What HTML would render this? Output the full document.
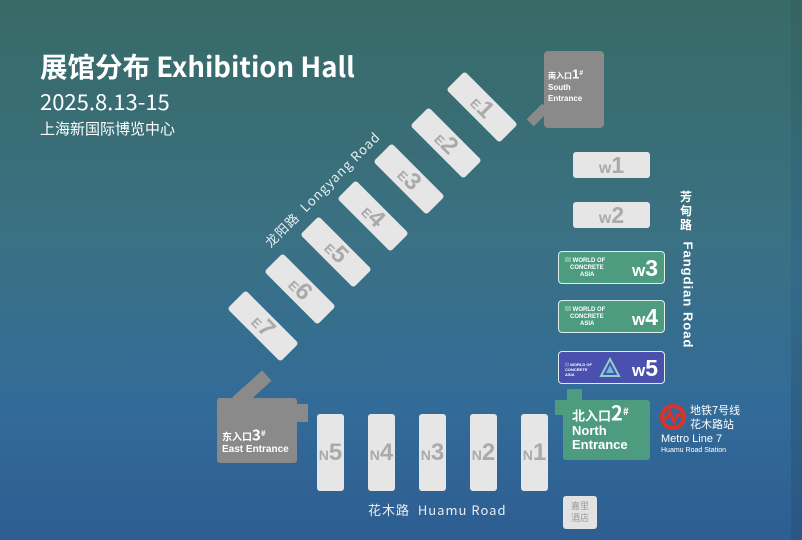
<!DOCTYPE html>
<html><head><meta charset="utf-8"><style>
*{margin:0;padding:0;box-sizing:border-box}
body{width:802px;height:540px;overflow:hidden;position:relative;font-family:"Liberation Sans","Noto Sans CJK SC",sans-serif;background:linear-gradient(180deg,#386a66 0%,#3a7184 45%,#326b98 75%,#2e5e92 100%);color:#fff}
.a{position:absolute}
.strip{left:791px;top:0;width:11px;height:540px;background:linear-gradient(180deg,#36645f,#336b88 50%,#2a5585);}
.e{position:absolute;width:75px;height:26px;background:#e6e6e6;border-radius:3px;transform:translate(-50%,-50%) rotate(45deg);color:#aaa;font-weight:bold;text-align:center;line-height:26px;font-size:24px}
.e small{font-size:13px}
.n{position:absolute;top:414px;width:27px;height:77px;background:#e6e6e6;border-radius:3px;color:#aaa;font-weight:bold;text-align:center;line-height:77px;font-size:24px}
.n small{font-size:14px}
.w{position:absolute;left:573px;width:77px;height:26px;background:#e6e6e6;border-radius:3px;color:#aaa;font-weight:bold;text-align:center;line-height:27px;font-size:23px}
.g{position:absolute;left:558px;width:107px;height:33px;background:#4e9c80;border:1.5px solid #dfeee8;border-radius:4px}
.g .num{position:absolute;right:6px;top:0;font-weight:bold;font-size:23px;line-height:32px}
.g .logo{position:absolute;left:6px;top:6px;font-size:6px;font-weight:bold;line-height:7px}
</style></head><body>
<div class="a strip"></div>
<div class="a" style="left:40px;top:47px;font-size:27.5px;font-weight:bold;font-family:'Noto Sans CJK SC',sans-serif;line-height:36px;white-space:nowrap">展馆分布 Exhibition Hall</div>
<div class="a" style="left:40px;top:87px;font-size:22px;font-family:'Noto Sans CJK SC',sans-serif;line-height:28px">2025.8.13-15</div>
<div class="a" style="left:40px;top:118px;font-size:15px;font-family:'Noto Sans CJK SC',sans-serif;line-height:22px">上海新国际博览中心</div>

<div class="e" style="left:482px;top:107px"><small>E</small>1</div>
<div class="e" style="left:446px;top:143px"><small>E</small>2</div>
<div class="e" style="left:409px;top:179px"><small>E</small>3</div>
<div class="e" style="left:373px;top:216px"><small>E</small>4</div>
<div class="e" style="left:336px;top:252px"><small>E</small>5</div>
<div class="e" style="left:300px;top:289px"><small>E</small>6</div>
<div class="e" style="left:263px;top:326px"><small>E</small>7</div>

<div class="a" style="left:322px;top:189px;transform:translate(-50%,-50%) rotate(-45deg);font-size:13px;white-space:nowrap;color:#e8eef2;letter-spacing:1px;font-family:'Noto Sans CJK SC',sans-serif">龙阳路 &nbsp;Longyang Road</div>

<div class="a" style="left:527px;top:110px;width:22px;height:10px;background:#8a8a8a;transform:rotate(-45deg)"></div>
<div class="a" style="left:544px;top:51px;width:60px;height:77px;background:#8a8a8a;border-radius:4px"></div>
<div class="a" style="left:548px;top:68px;font-size:8px;font-weight:bold;line-height:11px">南入口<span style="font-size:13px">1</span><sup style="font-size:7px">#</sup><br>South<br>Entrance</div>

<div class="w" style="top:152px"><span style="font-size:16px">w</span>1</div>
<div class="w" style="top:202px"><span style="font-size:16px">w</span>2</div>

<div class="g" style="top:251px"><div class="logo">▤ WORLD OF<br>&nbsp;&nbsp;&nbsp;CONCRETE<br>&nbsp;&nbsp;&nbsp;&nbsp;&nbsp;&nbsp;&nbsp;&nbsp;&nbsp;ASIA</div><div class="num"><span style="font-size:17px">w</span>3</div></div>
<div class="g" style="top:300px"><div class="logo">▤ WORLD OF<br>&nbsp;&nbsp;&nbsp;CONCRETE<br>&nbsp;&nbsp;&nbsp;&nbsp;&nbsp;&nbsp;&nbsp;&nbsp;&nbsp;ASIA</div><div class="num"><span style="font-size:17px">w</span>4</div></div>
<div class="g" style="top:351px;background:#4a50ad"><div class="logo" style="font-size:4px;line-height:5px;top:10px">▤ WORLD OF<br>CONCRETE<br>ASIA</div>
<svg class="a" style="left:40px;top:5px" width="22" height="22"><polygon points="11,2 20,19 2,19" fill="none" stroke="#8fd0c8" stroke-width="2"/><polygon points="11,8 15,16 7,16" fill="#6fb8d8"/></svg>
<div class="num"><span style="font-size:17px">w</span>5</div></div>

<div class="a" style="left:680px;top:190px;width:14px;font-size:12px;font-weight:bold;line-height:14px;font-family:'Noto Sans CJK SC',sans-serif">芳甸路</div>
<div class="a" style="left:688px;top:295px;transform:translate(-50%,-50%) rotate(90deg);font-size:13px;font-weight:bold;white-space:nowrap;letter-spacing:1px">Fangdian Road</div>

<div class="a" style="left:567px;top:389px;width:15px;height:12px;background:#4e9c80"></div>
<div class="a" style="left:555px;top:400px;width:10px;height:15px;background:#4e9c80"></div>
<div class="a" style="left:563px;top:400px;width:87px;height:60px;background:#4e9c80;border-radius:3px"></div>
<div class="a" style="left:572px;top:402px;font-size:13px;font-weight:bold;line-height:18px;font-family:'Noto Sans CJK SC',sans-serif">北入口<span style="font-size:20px">2</span><sup style="font-size:10px">#</sup></div>
<div class="a" style="left:572px;top:424px;font-size:13px;font-weight:bold;line-height:14px">North<br>Entrance</div>

<svg class="a" style="left:659px;top:403px" width="28" height="28"><circle cx="14" cy="14" r="11" fill="none" stroke="#d9332b" stroke-width="4"/><polyline points="1,15 8,15 11,9 15,19 19,11 27,15" fill="none" stroke="#d9332b" stroke-width="3" /></svg>
<div class="a" style="left:690px;top:403px;font-size:11px;line-height:14px;font-family:'Noto Sans CJK SC',sans-serif">地铁7号线<br>花木路站</div>
<div class="a" style="left:661px;top:433px;font-size:11px;line-height:12px">Metro Line 7</div>
<div class="a" style="left:661px;top:446px;font-size:7px;line-height:9px">Huamu Road Station</div>

<div class="a" style="left:563px;top:496px;width:34px;height:33px;background:#e2e2e2;border-radius:3px;color:#999;font-size:9px;line-height:12px;text-align:center;padding-top:4px;font-family:'Noto Sans CJK SC',sans-serif">嘉里<br>酒店</div>

<div class="a" style="left:232px;top:382px;width:40px;height:14px;background:#8a8a8a;transform:rotate(-42deg)"></div>
<div class="a" style="left:290px;top:404px;width:18px;height:18px;background:#8a8a8a"></div>
<div class="a" style="left:217px;top:398px;width:80px;height:65px;background:#8a8a8a;border-radius:3px"></div>
<div class="a" style="left:222px;top:427px;font-size:10px;font-weight:bold;line-height:14px;font-family:'Noto Sans CJK SC',sans-serif">东入口<span style="font-size:15px">3</span><sup style="font-size:8px">#</sup></div>
<div class="a" style="left:222px;top:444px;font-size:10px;font-weight:bold">East Entrance</div>

<div class="n" style="left:317px"><small>N</small>5</div>
<div class="n" style="left:368px"><small>N</small>4</div>
<div class="n" style="left:419px"><small>N</small>3</div>
<div class="n" style="left:470px"><small>N</small>2</div>
<div class="n" style="left:521px"><small>N</small>1</div>

<div class="a" style="left:368px;top:501px;font-size:13px;line-height:18px;color:#e8eef2;letter-spacing:1px;white-space:nowrap;font-family:'Noto Sans CJK SC',sans-serif">花木路 &nbsp;Huamu Road</div>
</body></html>
